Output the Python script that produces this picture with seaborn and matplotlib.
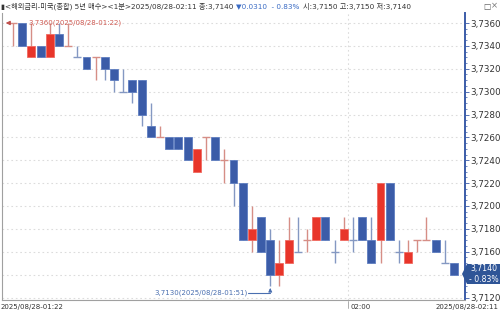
import numpy as np
import matplotlib
matplotlib.use("Agg")
import matplotlib.pyplot as plt
import seaborn as sns
from matplotlib import font_manager

# ---------------- data ----------------
times = ["01:22", "01:23", "01:24", "01:25", "01:26", "01:27", "01:28", "01:29", "01:30", "01:31",
         "01:32", "01:33", "01:34", "01:35", "01:36", "01:37", "01:38", "01:39", "01:41", "01:42",
         "01:43", "01:44", "01:45", "01:46", "01:47", "01:48", "01:49", "01:50", "01:51", "01:52",
         "01:53", "01:54", "01:55", "01:56", "01:57", "01:58", "01:59", "02:00", "02:01", "02:02",
         "02:03", "02:04", "02:05", "02:06", "02:07", "02:08", "02:09", "02:10", "02:11"]
opens = [3.7360, 3.7360, 3.7330, 3.7340, 3.7330, 3.7350, 3.7340, 3.7330, 3.7330, 3.7330,
         3.7330, 3.7320, 3.7300, 3.7310, 3.7310, 3.7270, 3.7260, 3.7260, 3.7260, 3.7260,
         3.7230, 3.7260, 3.7260, 3.7240, 3.7240, 3.7220, 3.7170, 3.7190, 3.7170, 3.7140,
         3.7150, 3.7160, 3.7170, 3.7170, 3.7190, 3.7160, 3.7170, 3.7170, 3.7190, 3.7170,
         3.7170, 3.7220, 3.7160, 3.7150, 3.7170, 3.7170, 3.7170, 3.7150, 3.7150]
highs = [3.7360, 3.7360, 3.7360, 3.7340, 3.7360, 3.7360, 3.7360, 3.7340, 3.7330, 3.7330,
         3.7330, 3.7320, 3.7320, 3.7310, 3.7310, 3.7290, 3.7270, 3.7260, 3.7260, 3.7260,
         3.7250, 3.7260, 3.7260, 3.7250, 3.7240, 3.7220, 3.7200, 3.7190, 3.7180, 3.7170,
         3.7190, 3.7190, 3.7180, 3.7190, 3.7190, 3.7170, 3.7190, 3.7190, 3.7190, 3.7190,
         3.7220, 3.7220, 3.7170, 3.7170, 3.7170, 3.7190, 3.7170, 3.7170, 3.7150]
lows = [3.7340, 3.7340, 3.7330, 3.7330, 3.7330, 3.7340, 3.7340, 3.7330, 3.7320, 3.7310,
        3.7310, 3.7300, 3.7300, 3.7290, 3.7270, 3.7260, 3.7260, 3.7250, 3.7250, 3.7240,
        3.7230, 3.7240, 3.7240, 3.7220, 3.7200, 3.7170, 3.7160, 3.7160, 3.7130, 3.7130,
        3.7150, 3.7160, 3.7160, 3.7170, 3.7170, 3.7150, 3.7170, 3.7160, 3.7170, 3.7150,
        3.7150, 3.7170, 3.7150, 3.7150, 3.7160, 3.7170, 3.7160, 3.7150, 3.7140]
closes = [3.7360, 3.7340, 3.7340, 3.7330, 3.7350, 3.7340, 3.7340, 3.7330, 3.7320, 3.7330,
          3.7320, 3.7310, 3.7300, 3.7300, 3.7280, 3.7260, 3.7260, 3.7250, 3.7250, 3.7240,
          3.7250, 3.7260, 3.7240, 3.7240, 3.7220, 3.7170, 3.7180, 3.7160, 3.7140, 3.7150,
          3.7170, 3.7160, 3.7170, 3.7190, 3.7170, 3.7160, 3.7180, 3.7170, 3.7170, 3.7150,
          3.7220, 3.7170, 3.7160, 3.7160, 3.7170, 3.7170, 3.7160, 3.7150, 3.7140]
# doji colour (1 = up/red, 0 = down/blue) for open == close
doji_up = [1, None, None, None, None, None, 1, 0, None, 1,
           None, None, 0, None, None, None, 1, None, None, None,
           None, 1, None, 1, None, None, None, None, None, None,
           None, 0, 1, None, None, 0, None, 0, None, None,
           None, None, 0, None, 1, 1, None, 0, None]
y_ticks = [3.7120, 3.7140, 3.7160, 3.7180, 3.7200, 3.7220, 3.7240, 3.7260, 3.7280,
           3.7300, 3.7320, 3.7340, 3.7360]
header_main = "▮<해외금리-미국(종합) 5년 매수><1분>2025/08/28-02:11 종:3,7140"
header_chg = "▼0.0310  - 0.83%"
header_ohl = "시:3,7150 고:3,7150 저:3,7140"
date_prefix = "2025/08/28-"
last_change = "- 0.83%"

# ---------------- style ----------------
sns.set_theme(style="white")
avail = {f.name for f in font_manager.fontManager.ttflist}
num_font = "Liberation Sans Narrow" if "Liberation Sans Narrow" in avail else "DejaVu Sans"
plt.rcParams['font.family'] = ['Noto Sans CJK KR', 'DejaVu Sans']
mixed = [num_font, 'Noto Sans CJK KR', 'DejaVu Sans']

W, H = 500, 314
fig = plt.figure(figsize=(W / 100, H / 100), dpi=100)
fig.patch.set_facecolor("white")

def fx(px):
    return px / W

def fy(py):
    return 1 - py / H

ax_l, ax_r, ax_t, ax_b = 2, 465, 13, 300
ax = fig.add_axes([fx(ax_l), fy(ax_b), fx(ax_r - ax_l), (ax_b - ax_t) / H])

RED, BLUE = "#e8352a", "#3b5ca8"
RED_W, BLUE_W = "#d68e86", "#8498c2"

n = len(opens)
xs = np.arange(n)
o, h, l, c = map(np.array, (opens, highs, lows, closes))
up = np.array([(cc > oo) if cc != oo else bool(d) for oo, cc, d in zip(o, c, doji_up)])
body_w = 0.86

# wicks
for i in range(n):
    col = RED_W if up[i] else BLUE_W
    if h[i] > l[i]:
        ax.vlines(xs[i], l[i], h[i], color=col, lw=1.0, zorder=2)
    if o[i] == c[i]:
        ax.hlines(o[i], xs[i] - body_w / 2, xs[i] + body_w / 2, color=col, lw=1.0, zorder=2)

# bodies
bm = o != c
bottoms = np.minimum(o, c)
heights = np.abs(c - o)
ax.bar(xs[bm], heights[bm], bottom=bottoms[bm], width=body_w,
       color=[RED if u else BLUE for u in up[bm]],
       edgecolor=[("#f06a60" if u else "#5f7ec0") for u in up[bm]], linewidth=0.6, zorder=3)

ymin, ymax = 3.7120, 3.7360
ppx = (297.5 - 23) / (ymax - ymin)  # px per unit
ax.set_ylim(ymin - 2.5 / ppx, ymax + 10 / ppx)
sp = (454 - 13) / (n - 1)
ax.set_xlim((ax_l - 13) / sp, (ax_r - 13) / sp)

# grid
for t in y_ticks:
    ax.axhline(t, color="#dcdcdc", lw=0.8, ls=(0, (1.5, 2.5)), zorder=0)
i200 = times.index("02:00")
ax.axvline(i200 - 0.5, color="#dcdcdc", lw=0.8, ls=(0, (1.5, 2.5)), zorder=0)

# axes styling
ax.yaxis.tick_right()
ax.set_yticks(y_ticks)
ax.set_yticklabels(["" if abs(t - c[-1]) < 1e-9 else f"{t:.4f}".replace(".", ",") for t in y_ticks],
                   fontsize=6.3, color="#333333", family=num_font)
ax.set_yticks(np.arange(ymin, ymax + 1e-9, 0.0005), minor=True)
ax.tick_params(axis="y", which="major", right=True, length=3, width=0.6, color="#3b5ca8", pad=1)
ax.tick_params(axis="y", which="minor", right=True, length=1.5, width=0.5, color="#3b5ca8")
ax.set_xticks([])
ax.spines["top"].set_visible(False)
ax.spines["right"].set_color("#3b5ca8")
ax.spines["right"].set_linewidth(1.4)
ax.spines["left"].set_color("#a0a0a0")
ax.spines["left"].set_linewidth(0.8)
ax.spines["bottom"].set_color("#a0a0a0")
ax.spines["bottom"].set_linewidth(0.8)

# max annotation
imax = int(np.argmax(h))
ax.annotate("", xy=(ax.get_xlim()[0] + 0.1, h[imax]), xytext=(xs[imax], h[imax]),
            arrowprops=dict(arrowstyle="-|>", color="#c0504d", lw=0.8, mutation_scale=6),
            zorder=4)
ax.annotate(f"{h[imax]:.4f}".replace(".", ",") + f"({date_prefix}{times[imax]})",
            xy=(xs[imax], h[imax]), xytext=(15, 0), textcoords="offset pixels",
            va="center", ha="left", fontsize=5.0, color="#cf5a52", family=num_font, zorder=5)

# min annotation
imin = int(np.argmin(l))
ax.annotate("", xy=(xs[imin], l[imin] - 2 / ppx), xytext=(xs[imin], l[imin] - 7 / ppx),
            arrowprops=dict(arrowstyle="-|>", color="#4a6fb0", lw=0.8, mutation_scale=5), zorder=4)
ax.plot([xs[imin] - 22 / sp, xs[imin]], [l[imin] - 7 / ppx] * 2, color="#4a6fb0", lw=0.8, zorder=4)
ax.annotate(f"{l[imin]:.4f}".replace(".", ",") + f"({date_prefix}{times[imin]})",
            xy=(xs[imin], l[imin] - 7 / ppx), xytext=(-23, 0), textcoords="offset pixels",
            va="center", ha="right", fontsize=5.0, color="#4a6fb0", family=num_font, zorder=5)

# current price tag
yl = 274
tag = plt.Polygon([(fx(462), fy(yl)), (fx(467), fy(264)), (fx(500), fy(264)),
                   (fx(500), fy(284)), (fx(467), fy(284))], closed=True,
                  transform=fig.transFigure, facecolor="#2f5597", edgecolor="none", zorder=10)
fig.patches.append(tag)
fig.text(fx(484), fy(268.8), f"{c[-1]:.4f}".replace(".", ","), ha="center", va="center",
         fontsize=5.6, color="white", family=num_font, zorder=11)
fig.text(fx(484), fy(279.2), last_change, ha="center", va="center",
         fontsize=5.6, color="white", family=num_font, zorder=11)

# header: pieces laid one after the other
renderer = fig.canvas.get_renderer()
x_cur = 1
for txt, col in [(header_main, "#333333"), (header_chg, "#3a6bc4"), (header_ohl, "#333333")]:
    t = fig.text(fx(x_cur), fy(6), txt, ha="left", va="center", fontsize=5.2, color=col,
                 family=mixed)
    bb = t.get_window_extent(renderer)
    x_cur = bb.x1 + 3
fig.text(fx(483), fy(6), "□", ha="left", va="center", fontsize=5.5, color="#555555",
         family=['DejaVu Sans'])
fig.text(fx(491), fy(6), "×", ha="left", va="center", fontsize=6, color="#777777",
         family=['DejaVu Sans'])

# bottom labels
fig.text(fx(1), fy(307), date_prefix + times[0], ha="left", va="center", fontsize=5.0,
         color="#333333", family=num_font)
x200 = 13 + (i200 - 0.5) * sp
fig.lines.append(plt.Line2D([fx(x200), fx(x200)], [fy(301), fy(308)], transform=fig.transFigure,
                            color="#a0a0a0", lw=0.6))
fig.text(fx(x200 + 2), fy(307), times[i200], ha="left", va="center", fontsize=5.0,
         color="#333333", family=num_font)
fig.text(fx(499), fy(307), date_prefix + times[-1], ha="right", va="center", fontsize=5.0,
         color="#333333", family=num_font)

fig.savefig("out.png", dpi=100, facecolor="white")
